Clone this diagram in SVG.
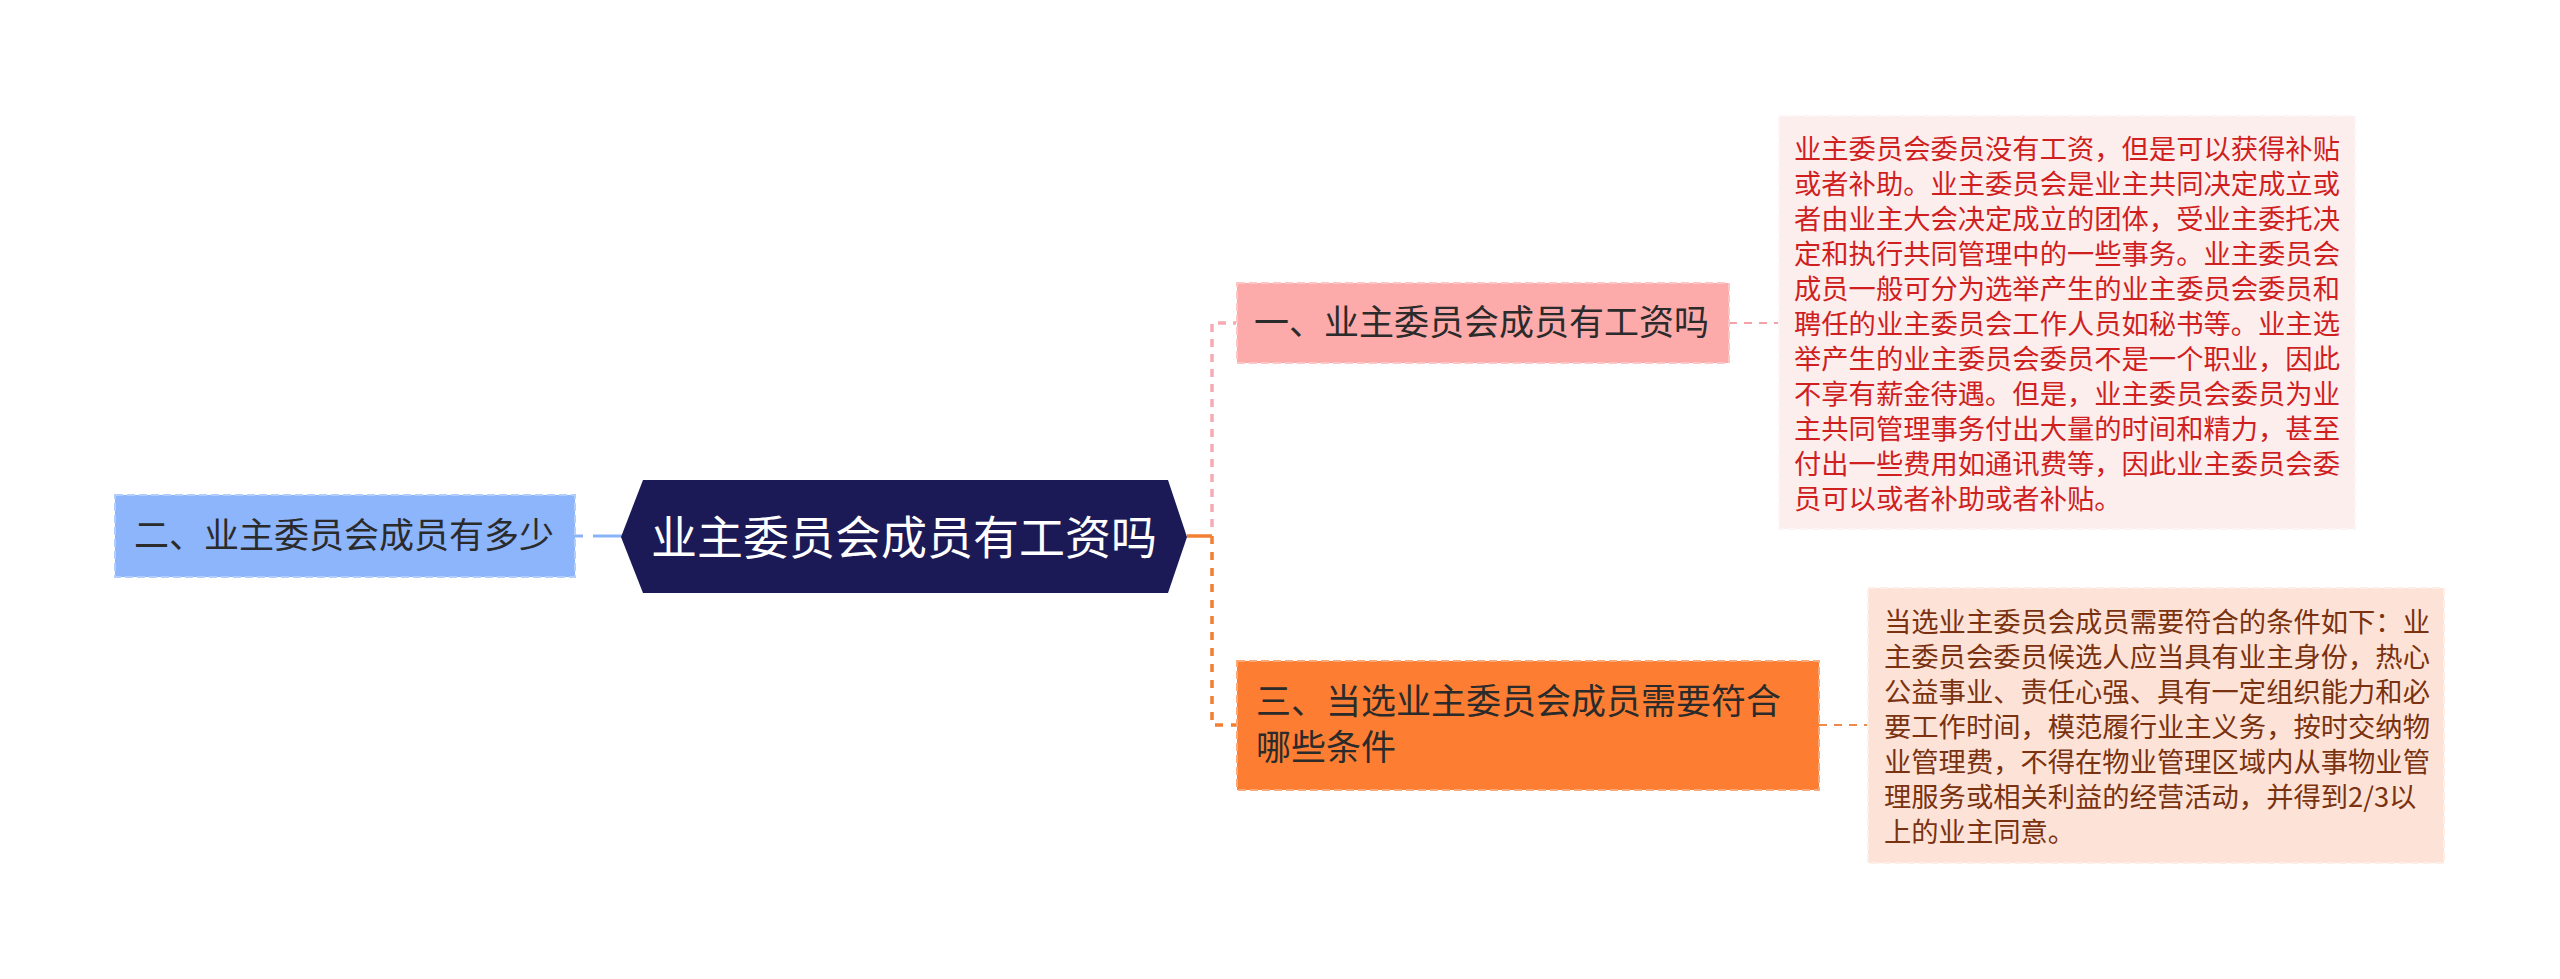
<svg xmlns="http://www.w3.org/2000/svg" width="2560" height="979" viewBox="0 0 2560 979">
<style>
text{font-family:"Noto Sans CJK SC","Noto Sans",sans-serif;}
.t1{font-size:35px;fill:#2b2b2b;}
.d1{font-size:27.3px;fill:#d01f1f;}
.d2{font-size:27.3px;fill:#7a3210;}
.box{stroke-width:2;stroke-dasharray:8 4;}
</style>
<rect width="2560" height="979" fill="#ffffff"/>
<g id="connectors" fill="none">
  <line x1="575" y1="536" x2="622" y2="536" stroke="#8ab4fa" stroke-width="3" stroke-dasharray="8 10 34 0"/>
  <path d="M1212 527 V323 H1236" stroke="#f6aab2" stroke-width="3.5" stroke-dasharray="8 7"/>
  <line x1="1187" y1="536" x2="1212" y2="536" stroke="#f47e32" stroke-width="3.5"/>
  <path d="M1212 536 V725 H1237" stroke="#f47e32" stroke-width="3.5" stroke-dasharray="8 8"/>
  <line x1="1729" y1="323" x2="1779" y2="323" stroke="#f3a3a8" stroke-width="2" stroke-dasharray="8 7"/>
  <line x1="1819" y1="725" x2="1868" y2="725" stroke="#f08a4a" stroke-width="2" stroke-dasharray="8 7"/>
</g>
<g id="center">
  <polygon points="621,537 643,480 1168,480 1187,537 1168,593 643,593" fill="#1c1a56"/>
  <text x="904" y="554" text-anchor="middle" font-size="46" fill="#ffffff">业主委员会成员有工资吗</text>
</g>
<g id="node-2">
  <rect class="box" x="115" y="495" width="460" height="82" fill="#8db5fc" stroke="#b3cdfc"/>
  <text class="t1" x="134" y="548">二、业主委员会成员有多少</text>
</g>
<g id="node-1">
  <rect class="box" x="1237" y="283" width="492" height="80" fill="#fdaaaa" stroke="#fcc6c6"/>
  <text class="t1" x="1254" y="335">一、业主委员会成员有工资吗</text>
</g>
<g id="node-3">
  <rect class="box" x="1237" y="661" width="582" height="129" fill="#fd7e33" stroke="#f9a877"/>
  <text class="t1" x="1256" y="714" fill="#3a2414">三、当选业主委员会成员需要符合</text>
  <text class="t1" x="1256" y="760" fill="#3a2414">哪些条件</text>
</g>
<g id="detail-1">
  <rect class="box" x="1779" y="116" width="576" height="413" fill="#fdeeee" stroke="#fdf5f5"/>
  <text class="d1" x="1794" y="159">业主委员会委员没有工资，但是可以获得补贴</text>
  <text class="d1" x="1794" y="194">或者补助。业主委员会是业主共同决定成立或</text>
  <text class="d1" x="1794" y="229">者由业主大会决定成立的团体，受业主委托决</text>
  <text class="d1" x="1794" y="264">定和执行共同管理中的一些事务。业主委员会</text>
  <text class="d1" x="1794" y="299">成员一般可分为选举产生的业主委员会委员和</text>
  <text class="d1" x="1794" y="334">聘任的业主委员会工作人员如秘书等。业主选</text>
  <text class="d1" x="1794" y="369">举产生的业主委员会委员不是一个职业，因此</text>
  <text class="d1" x="1794" y="404">不享有薪金待遇。但是，业主委员会委员为业</text>
  <text class="d1" x="1794" y="439">主共同管理事务付出大量的时间和精力，甚至</text>
  <text class="d1" x="1794" y="474">付出一些费用如通讯费等，因此业主委员会委</text>
  <text class="d1" x="1794" y="509">员可以或者补助或者补贴。</text>
</g>
<g id="detail-3">
  <rect class="box" x="1868" y="588" width="576" height="275" fill="#fde3d7" stroke="#fdeee6"/>
  <text class="d2" x="1884" y="632">当选业主委员会成员需要符合的条件如下：业</text>
  <text class="d2" x="1884" y="667">主委员会委员候选人应当具有业主身份，热心</text>
  <text class="d2" x="1884" y="702">公益事业、责任心强、具有一定组织能力和必</text>
  <text class="d2" x="1884" y="737">要工作时间，模范履行业主义务，按时交纳物</text>
  <text class="d2" x="1884" y="772">业管理费，不得在物业管理区域内从事物业管</text>
  <text class="d2" x="1884" y="807">理服务或相关利益的经营活动，并得到2/3以</text>
  <text class="d2" x="1884" y="842">上的业主同意。</text>
</g>
</svg>
